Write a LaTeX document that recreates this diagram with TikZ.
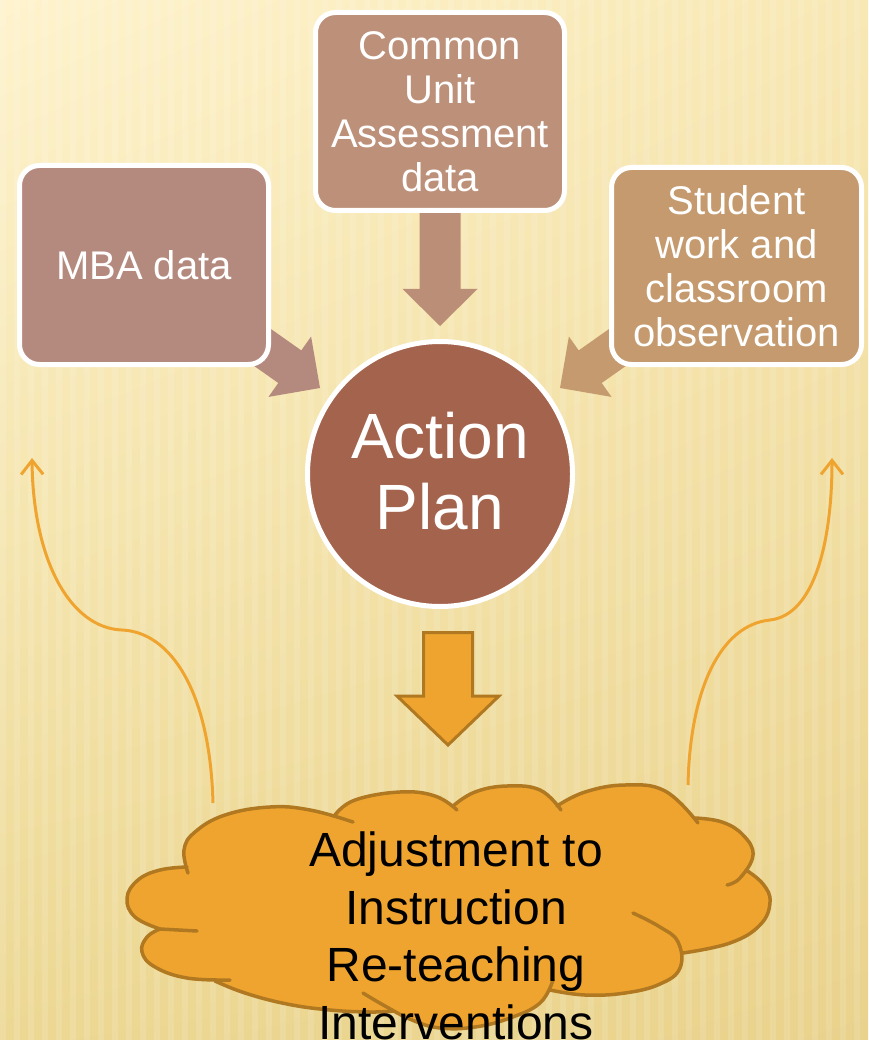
\documentclass[tikz,border=0pt]{standalone}
\usepackage{fontspec}
\setmainfont{Liberation Sans}
\usetikzlibrary{arrows.meta,shadings}
\definecolor{bgA}{HTML}{FEF3CD}
\definecolor{bgB}{HTML}{F8E8B4}
\definecolor{bgC}{HTML}{ECD893}
\definecolor{bgD}{HTML}{E9D28C}
\definecolor{mbaC}{HTML}{B58A7E}
\definecolor{cuaC}{HTML}{BD9079}
\definecolor{swC}{HTML}{C49A6E}
\definecolor{apC}{HTML}{A4634D}
\definecolor{arrT}{HTML}{BB8E78}
\definecolor{orF}{HTML}{F0A430}
\definecolor{orD}{HTML}{B07820}
\tikzset{
  databox/.style={draw=white, line width=5pt, rounded corners=20pt, text=white, align=center, inner sep=0pt},
  boxfont/.style={font=\fontsize{40}{44}\selectfont},
  curvearrow/.style={draw=orF, line width=3pt, -{Straight Barb[length=14pt,width=22pt,line width=3pt]}},
  cloudline/.style={draw=orD, line width=3.5pt, line join=round, line cap=round},
}
\begin{document}
\begin{tikzpicture}[x=1pt,y=-1pt]
\useasboundingbox (0,0) rectangle (868,1040);
% background
\shade[upper left=bgA, upper right=bgB, lower left=bgC, lower right=bgD] (0,0) rectangle (868,1040);
\begin{scope}
\clip (0,0) rectangle (868,1040);
\foreach \i in {0,14,...,868} {
  \fill[white, opacity=0.12] (\i,0) rectangle ++(6,1040);
}
\end{scope}

% curved arrows (behind cloud)
\coordinate (ls) at (213,803);
\coordinate (le) at (32,458);
\coordinate (rs) at (688,785);
\coordinate (re) at (832,458);
\draw[curvearrow] (ls) .. controls (210,690) and (170,632) .. (122,630) .. controls (70,628) and (33,560) .. (le);
\draw[curvearrow] (rs) .. controls (690,690) and (720,625) .. (770,620) .. controls (815,615) and (832,540) .. (re);

% block arrows toward the action plan
\fill[mbaC] (320,388) -- (311.1,336.5) -- (301.3,350.4) -- (235.9,304.3) -- (212.9,336.9) -- (278.3,383.0) -- (268.5,396.9) -- cycle;
\fill[swC] (560,388) -- (568.9,336.5) -- (578.7,350.4) -- (644.1,304.3) -- (667.1,336.9) -- (601.7,383.0) -- (611.5,396.9) -- cycle;
\fill[arrT] (440,326) -- (477.5,289) -- (460.5,289) -- (460.5,200) -- (419.5,200) -- (419.5,289) -- (402.5,289) -- cycle;

% boxes
\node[databox, boxfont, fill=mbaC, minimum width=249pt, minimum height=199pt] (mba) at (144,265) {MBA data};
\node[databox, boxfont, fill=cuaC, minimum width=249pt, minimum height=198pt] (cua) at (440,111.5) {Common\\Unit\\Assessment\\data};
\node[databox, boxfont, fill=swC, minimum width=250pt, minimum height=197pt] (sw) at (736.5,266) {Student\\work and\\classroom\\observation};

% action plan
\node[circle, draw=white, line width=5pt, fill=apC, minimum size=265pt, inner sep=0pt] (ap) at (440,474) {};
\node[text=white, align=center, font=\fontsize{64}{71}\selectfont, inner sep=0pt] (aptext) at ([yshift=3pt]ap.center) {Action\\Plan};

% orange down arrow
\filldraw[fill=orF, draw=orD, line width=3pt, line join=miter] (448,745) -- (499,696) -- (472.5,696) -- (472.5,632.5) -- (423.5,632.5) -- (423.5,696) -- (397,696) -- cycle;

% cloud
\path[fill=orF] plot[smooth,tension=0.7] coordinates {(160,929)(135,917)(127,898)(138,880)(160,870)(187,867)}
 -- plot[smooth,tension=0.7] coordinates {(187,867)(184,850)(195,832)(225,815)(270,807)(310,810)(335,815)}
 -- plot[smooth,tension=0.7] coordinates {(335,815)(355,800)(400,792)(435,796)(453,806)}
 -- plot[smooth,tension=0.7] coordinates {(453,806)(475,792)(507,786)(540,790)(557,806)}
 -- plot[smooth,tension=0.7] coordinates {(557,806)(585,792)(625,785)(665,791)(695,818)}
 -- plot[smooth,tension=0.7] coordinates {(695,818)(722,822)(743,835)(753,855)(746,870)}
 -- plot[smooth,tension=0.7] coordinates {(746,870)(763,884)(770,902)(760,925)(730,943)(683,953)}
 -- plot[smooth,tension=0.7] coordinates {(683,953)(680,968)(660,984)(625,993)(585,995)(550,990)}
 -- plot[smooth,tension=0.7] coordinates {(550,990)(540,1003)(510,1018)(475,1027)(440,1028)(412,1020)(393,1011)}
 -- plot[smooth,tension=0.7] coordinates {(393,1011)(370,1012)(330,1010)(287,1004)(245,993)(215,981)}
 -- plot[smooth,tension=0.7] coordinates {(215,981)(187,978)(155,967)(142,952)(147,937)(160,929)}
 -- cycle;
\begin{scope}[cloudline]
\draw plot[smooth,tension=0.7] coordinates {(160,929)(135,917)(127,898)(138,880)(160,870)(187,867)};
\draw plot[smooth,tension=0.7] coordinates {(188,873)(184,850)(195,832)(225,815)(270,807)(310,810)(353,822)};
\draw plot[smooth,tension=0.7] coordinates {(335,815)(355,800)(400,792)(435,796)(457,810)};
\draw plot[smooth,tension=0.7] coordinates {(453,806)(475,792)(507,786)(540,790)(561,810)};
\draw plot[smooth,tension=0.7] coordinates {(557,806)(585,792)(625,785)(665,791)(698,823)};
\draw plot[smooth,tension=0.7] coordinates {(695,818)(722,822)(743,835)(753,855)(740,878)(727,885)};
\draw plot[smooth,tension=0.7] coordinates {(746,870)(763,884)(770,902)(760,925)(730,943)(683,953)};
\draw plot[smooth,tension=0.7] coordinates {(633,913)(660,927)(678,942)(680,968)(660,984)(625,993)(585,995)(550,990)};
\draw plot[smooth,tension=0.7] coordinates {(553,980)(540,1003)(510,1018)(475,1027)(440,1028)(412,1020)(385,1006)(363,993)};
\draw plot[smooth,tension=0.7] coordinates {(393,1011)(370,1012)(330,1010)(287,1004)(245,993)(215,981)};
\draw plot[smooth,tension=0.7] coordinates {(230,980)(187,978)(155,967)(142,952)(147,937)(160,929)};
\draw (160,929) -- (197,931);
\end{scope}
\node[align=center, text=black, font=\fontsize{48}{57.5}\selectfont, inner sep=0pt] (adj) at (456,936) {Adjustment to\\Instruction\\Re-teaching\\Interventions};
\end{tikzpicture}
\end{document}
